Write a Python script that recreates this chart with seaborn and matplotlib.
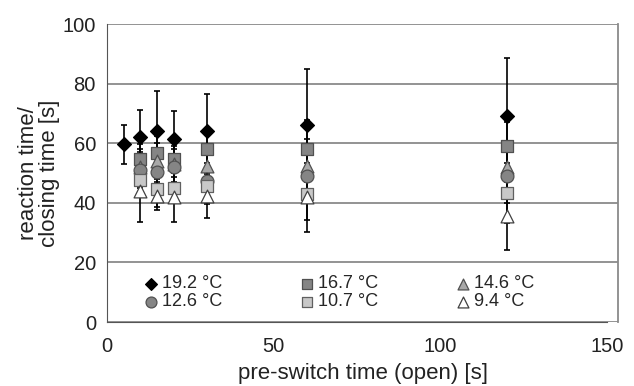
import numpy as np
import pandas as pd
import matplotlib
matplotlib.use("Agg")
import matplotlib.pyplot as plt
import seaborn as sns

# === DATA ===
x_192 = [5, 10, 15, 20, 30, 60, 120]
y_192 = [59.6, 62.2, 64.2, 61.4, 64.2, 66.0, 69.0]
e_192 = [6.6, 9.0, 13.4, 9.3, 12.2, 18.9, 19.7]

x_rest = [10, 15, 20, 30, 60, 120]
y_167 = [54.6, 56.8, 54.8, 57.9, 57.9, 59.0]
e_167 = [5.0, 5.5, 6.0, 7.0, 10.0, 8.0]
y_146 = [52.0, 54.0, 53.0, 52.3, 52.3, 52.0]
e_146 = [6.0, 6.0, 6.0, 6.0, 9.0, 8.0]
y_126 = [50.9, 50.3, 52.0, 47.3, 49.0, 49.0]
e_126 = [6.0, 7.0, 6.0, 6.0, 8.0, 9.0]
y_107 = [47.6, 44.6, 44.9, 45.7, 43.1, 43.2]
e_107 = [5.0, 6.0, 5.0, 6.0, 9.0, 10.0]
y_94 = [44.0, 42.3, 41.8, 42.3, 41.8, 35.7]
e_94 = [10.6, 4.7, 8.1, 7.5, 11.7, 11.4]

labels = ["19.2 °C", "16.7 °C", "14.6 °C", "12.6 °C", "10.7 °C", "9.4 °C"]

series = [
    (labels[0], x_192, y_192, e_192, "D", "black", "black", 50),
    (labels[1], x_rest, y_167, e_167, "s", "#858585", "#505050", 85),
    (labels[2], x_rest, y_146, e_146, "^", "#a8a8a8", "#505050", 85),
    (labels[3], x_rest, y_126, e_126, "o", "#858585", "#505050", 85),
    (labels[4], x_rest, y_107, e_107, "s", "#c8c8c8", "#606060", 85),
    (labels[5], x_rest, y_94, e_94, "^", "white", "#404040", 85),
]

sns.set_style("white")
plt.rcParams["font.family"] = ["Liberation Sans", "DejaVu Sans"]

fig = plt.figure(figsize=(6.34, 3.86), dpi=100)
ax = fig.add_axes([107 / 634, 64 / 386, 511 / 634, 298 / 386])

# error bars first, markers on top
for name, xs, ys, es, mk, fc, ec, sz in series:
    ax.errorbar(xs, ys, yerr=es, fmt="none", ecolor="black",
                elinewidth=1.2, capsize=2.5, capthick=1.2, zorder=2)

for name, xs, ys, es, mk, fc, ec, sz in series:
    df = pd.DataFrame({"x": xs, "y": ys})
    sns.scatterplot(data=df, x="x", y="y", marker=mk, s=sz, color=fc,
                    edgecolor=ec, linewidth=0.9, ax=ax, zorder=3, label=name)

ax.set_xlim(0, 153.3)
ax.set_ylim(0, 100)
ax.set_xticks([0, 50, 100, 150])
ax.set_yticks([0, 20, 40, 60, 80, 100])
ax.yaxis.grid(True, color="#8a8a8a", linewidth=1.3)
ax.set_axisbelow(True)

ax.spines["top"].set_visible(False)
ax.spines["right"].set_color("#8a8a8a")
ax.spines["right"].set_linewidth(1.3)
ax.spines["left"].set_color("#555555")
ax.spines["bottom"].set_color("#555555")
ax.spines["bottom"].set_bounds(0, 150)
ax.tick_params(axis="both", direction="out", length=5, width=1,
               color="#555555", labelsize=14.5, pad=3, labelcolor="#222222")
ax.tick_params(axis="x", pad=6)

ax.set_xlabel("pre-switch time (open) [s]", fontsize=16, labelpad=5,
              color="#222222")
ax.set_ylabel("reaction time/\nclosing time [s]", fontsize=16, labelpad=2,
              linespacing=1.0, color="#222222")

# legend: 3 columns, row-wise order like the original
h, l = ax.get_legend_handles_labels()
order = [0, 3, 1, 4, 2, 5]
ax.legend([h[i] for i in order], [l[i] for i in order], ncol=3,
          loc="lower left", bbox_to_anchor=(0.055, 0.015), frameon=False,
          fontsize=13, handletextpad=0.1, handlelength=1.0, markerscale=0.85,
          columnspacing=4.2, labelspacing=0.05, borderaxespad=0)

fig.savefig("out.png", dpi=100)
